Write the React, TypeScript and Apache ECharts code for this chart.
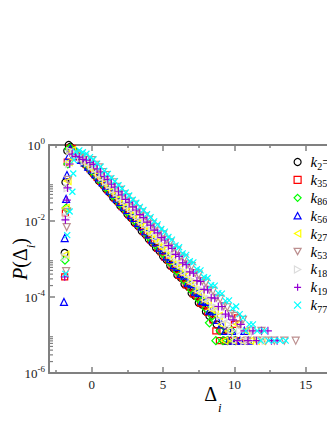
import React, { useEffect, useRef } from "react";
import * as echarts from "echarts";

// ---------- data (Δ_i, log10 P) ----------
const binStep = 0.25;

const k2Head = [[-1.9, -2.84], [-1.85, -0.98], [-1.72, -0.15], [-1.62, 0.0]];
const k2Start = -1.5;
const k2LogP = [-0.05, -0.15, -0.28, -0.37, -0.5, -0.6, -0.71, -0.81, -0.94, -1.03, -1.16, -1.25, -1.38, -1.47, -1.6, -1.69, -1.82, -1.91, -2.04, -2.13, -2.26, -2.35, -2.48, -2.57, -2.7, -2.79, -2.93, -3.02, -3.17, -3.25, -3.42, -3.49, -3.66, -3.72, -3.9, -3.97, -4.15, -4.2, -4.38, -4.5];
const k2Tail = [[8.5, -4.6], [8.75, -4.72], [9.0, -4.89], [9.25, -5.15], [9.5, -4.89], [9.75, -5.15], [10.0, -5.15]];

const k35Head = [[-1.9, -3.47], [-1.85, -1.79], [-1.72, -0.45], [-1.55, -0.08]];
const k35Start = -1.375;
const k35LogP = [-0.09, -0.2, -0.31, -0.41, -0.52, -0.63, -0.74, -0.85, -0.96, -1.06, -1.18, -1.28, -1.4, -1.5, -1.62, -1.71, -1.84, -1.93, -2.06, -2.15, -2.28, -2.37, -2.5, -2.59, -2.72, -2.81, -2.95, -3.04, -3.19, -3.27, -3.43, -3.5, -3.68, -3.74, -3.92, -3.97, -4.16, -4.2, -4.4];
const k35Tail = [[8.5, -4.6], [8.7, -4.89], [8.95, -5.15], [9.2, -4.89], [9.4, -5.15], [9.7, -5.15], [10.0, -4.72], [10.2, -4.55], [10.5, -5.15], [10.8, -5.15]];

const k86Head = [[-1.88, -3.03], [-1.8, -1.66], [-1.68, -0.5], [-1.6, -0.1]];
const k86Start = -1.5;
const k86LogP = [-0.08, -0.17, -0.26, -0.36, -0.48, -0.57, -0.69, -0.78, -0.9, -1.0, -1.12, -1.21, -1.34, -1.43, -1.56, -1.65, -1.77, -1.86, -1.99, -2.08, -2.2, -2.3, -2.42, -2.51, -2.64, -2.72, -2.86, -2.95, -3.09, -3.18, -3.33, -3.41, -3.57, -3.64, -3.82, -3.87, -4.06, -4.1, -4.3];
const k86Tail = [[8.25, -4.68], [8.45, -4.5], [8.7, -5.15], [9.0, -4.89], [9.2, -5.15], [9.5, -5.15], [9.8, -4.89], [10.1, -5.15]];

const k56Head = [[-1.95, -4.13], [-1.9, -2.45], [-1.8, -1.42], [-1.74, -0.79], [-1.62, -0.3]];
const k56Start = -1.5;
const k56LogP = [-0.1, -0.2, -0.27, -0.39, -0.46, -0.57, -0.64, -0.77, -0.85, -0.98, -1.07, -1.2, -1.28, -1.41, -1.5, -1.62, -1.71, -1.84, -1.92, -2.05, -2.14, -2.27, -2.35, -2.49, -2.56, -2.7, -2.77, -2.93, -3.0, -3.16, -3.21, -3.39, -3.44, -3.62, -3.66, -3.86, -3.89, -4.1, -4.13, -4.36, -4.38];
const k56Tail = [[8.8, -4.6], [9.1, -4.72], [9.35, -4.89], [9.6, -5.15], [9.85, -4.89], [10.1, -5.15], [10.4, -5.15], [10.7, -4.89], [11.0, -5.15]];

const k27Head = [[-1.85, -2.89], [-1.82, -1.66], [-1.7, -0.95], [-1.62, -0.45], [-1.52, -0.22]];
const k27Start = -1.375;
const k27LogP = [-0.14, -0.25, -0.31, -0.41, -0.48, -0.58, -0.66, -0.78, -0.87, -0.99, -1.08, -1.2, -1.29, -1.41, -1.5, -1.62, -1.71, -1.83, -1.92, -2.04, -2.13, -2.25, -2.34, -2.46, -2.55, -2.68, -2.75, -2.91, -2.98, -3.14, -3.21, -3.38, -3.43, -3.62, -3.66, -3.85, -3.89, -4.08, -4.12, -4.32, -4.36];
const k27Tail = [[8.9, -4.5], [9.1, -4.72], [9.3, -5.15], [9.6, -4.89], [9.9, -5.15], [10.2, -4.72], [10.5, -5.15], [10.8, -4.89], [11.1, -5.15], [11.5, -5.15], [11.9, -5.15]];

const k53Head = [[-1.8, -3.32], [-1.76, -2.16], [-1.72, -1.76], [-1.66, -0.92]];
const k53Start = -1.5;
const k53LogP = [-0.19, -0.25, -0.26, -0.32, -0.33, -0.39, -0.4, -0.52, -0.59, -0.71, -0.79, -0.91, -0.98, -1.1, -1.18, -1.3, -1.38, -1.49, -1.57, -1.69, -1.77, -1.88, -1.96, -2.08, -2.16, -2.27, -2.35, -2.49, -2.56, -2.7, -2.77, -2.93, -2.98, -3.14, -3.19, -3.37, -3.41, -3.58, -3.62, -3.81, -3.84, -4.02, -4.05, -4.24, -4.27, -4.45, -4.5];
const k53Tail = [[10.3, -4.72], [10.6, -4.6], [10.9, -5.15], [11.2, -4.89], [11.6, -5.15], [11.9, -4.89], [12.2, -5.15], [12.8, -5.15], [13.5, -5.15], [14.3, -5.15]];

const k18Head = [[-1.85, -2.95], [-1.78, -1.9], [-1.7, -1.13], [-1.6, -0.5]];
const k18Start = -1.5;
const k18LogP = [-0.16, -0.21, -0.29, -0.34, -0.43, -0.47, -0.56, -0.64, -0.77, -0.85, -0.97, -1.06, -1.18, -1.26, -1.38, -1.47, -1.59, -1.67, -1.8, -1.88, -2.0, -2.09, -2.21, -2.29, -2.41, -2.5, -2.62, -2.71, -2.86, -2.93, -3.1, -3.15, -3.33, -3.38, -3.56, -3.6, -3.8, -3.82, -4.04, -4.05, -4.27, -4.28, -4.5];
const k18Tail = [[9.3, -4.6], [9.55, -4.72], [9.8, -4.89], [10.1, -5.15], [10.4, -4.89], [10.7, -5.15], [11.0, -5.15], [11.4, -4.89], [11.8, -5.15], [12.2, -5.15]];

const k19Head = [[-1.9, -3.47], [-1.85, -1.97], [-1.75, -1.45], [-1.7, -1.13], [-1.55, -0.5]];
const k19Start = -1.375;
const k19LogP = [-0.24, -0.3, -0.32, -0.38, -0.4, -0.46, -0.51, -0.63, -0.71, -0.83, -0.91, -1.03, -1.11, -1.23, -1.31, -1.43, -1.51, -1.63, -1.71, -1.83, -1.91, -2.03, -2.11, -2.24, -2.31, -2.44, -2.5, -2.65, -2.72, -2.88, -2.93, -3.1, -3.15, -3.34, -3.37, -3.57, -3.59, -3.8, -3.81, -4.02, -4.03, -4.25, -4.25, -4.45];
const k19Tail = [[9.6, -4.5], [9.9, -4.6], [10.2, -5.15], [10.45, -4.72], [10.7, -4.89], [10.95, -5.15], [11.3, -4.89], [11.55, -5.15], [11.9, -4.89], [12.35, -4.89], [12.6, -5.15], [13.0, -5.15]];

const k77Head = [[-1.85, -3.39], [-1.72, -2.37], [-1.55, -1.75], [-1.36, -1.23], [-1.3, -0.75], [-1.25, -0.4]];
const k77Start = -1.125;
const k77LogP = [-0.18, -0.14, -0.19, -0.23, -0.32, -0.38, -0.49, -0.57, -0.68, -0.76, -0.87, -0.95, -1.06, -1.14, -1.25, -1.33, -1.44, -1.52, -1.63, -1.71, -1.82, -1.9, -2.01, -2.09, -2.21, -2.28, -2.42, -2.49, -2.64, -2.69, -2.85, -2.89, -3.06, -3.09, -3.27, -3.3, -3.48, -3.5, -3.69, -3.7, -3.9, -3.91, -4.1, -4.09, -4.3, -4.25, -4.45];
const k77Tail = [[10.6, -4.55], [10.8, -4.89], [11.05, -4.72], [11.3, -4.72], [11.6, -4.89], [11.85, -5.15], [12.1, -4.89], [12.4, -5.15], [12.8, -5.15], [13.2, -5.15], [13.6, -5.15]];

const seriesNames = ["k2", "k35", "k86", "k56", "k27", "k53", "k18", "k19", "k77"];
const legendSubs = ["2", "35", "86", "56", "27", "53", "18", "19", "77"];

const xMajorTicks = [0, 5, 10, 15, 20];
const xTickLabels = [0, 5, 10, 15];
const xMinorTicks = [-2.5, 2.5, 7.5, 12.5, 17.5];
const yMinorMantissas = [2, 3, 4, 5, 6, 7, 8, 9];
const yMinorDecades = [-2, -4, -6];

// ---------- helpers / styles ----------
function build(head: number[][], start: number, logP: number[], tail: number[][]) {
  return [...head, ...logP.map((v, i) => [start + i * binStep, v]), ...tail];
}

const seriesData = [
  build(k2Head, k2Start, k2LogP, k2Tail),
  build(k35Head, k35Start, k35LogP, k35Tail),
  build(k86Head, k86Start, k86LogP, k86Tail),
  build(k56Head, k56Start, k56LogP, k56Tail),
  build(k27Head, k27Start, k27LogP, k27Tail),
  build(k53Head, k53Start, k53LogP, k53Tail),
  build(k18Head, k18Start, k18LogP, k18Tail),
  build(k19Head, k19Start, k19LogP, k19Tail),
  build(k77Head, k77Start, k77LogP, k77Tail),
];

const markerStyles = [
  { color: "#000000", symbol: "circle", size: 7 },
  { color: "#ff0000", symbol: "rect", size: 6 },
  { color: "#00ff00", symbol: "diamond", size: 8 },
  { color: "#0000ff", symbol: "path://M5,0L10,9L0,9Z", size: 7 },
  { color: "#ffff00", symbol: "path://M0,5L9,0L9,10Z", size: 7 },
  { color: "#bc8f8f", symbol: "path://M0,0L10,0L5,9Z", size: 7 },
  { color: "#dcdcdc", symbol: "path://M0,0L9,5L0,10Z", size: 7 },
  { color: "#9400d3", symbol: "path://M4,0L4,8M0,4L8,4", size: 8 },
  { color: "#00ffff", symbol: "path://M0,0L8,8M8,0L0,8", size: 6 },
];

const FONT = "'Liberation Serif', 'Times New Roman', serif";
const AXIS = "#808080";

export default function App() {
  const ref = useRef<HTMLDivElement>(null);

  useEffect(() => {
    document.body.style.margin = "0";
    if (!ref.current) return;
    const chart = echarts.init(ref.current, undefined, { renderer: "svg" });

    const yMinorData = yMinorDecades.flatMap((d) => yMinorMantissas.map((m) => [-3, d + Math.log10(m)]));

    const scatterSeries = seriesData.map((data, i) => ({
      name: seriesNames[i],
      type: "scatter",
      xAxisIndex: 0,
      yAxisIndex: 0,
      data,
      symbol: markerStyles[i].symbol,
      symbolSize: markerStyles[i].size,
      itemStyle: {
        color: "rgba(0,0,0,0)",
        borderColor: markerStyles[i].color,
        borderWidth: 1.2,
        opacity: 1,
      },
      emphasis: { disabled: true },
    }));

    const xBase = {
      type: "value",
      min: -3,
      max: 20,
      splitLine: { show: false },
    };

    chart.setOption({
      animation: false,
      backgroundColor: "#ffffff",
      grid: { left: 49, top: 145, width: 328, height: 228, containLabel: false, outerBoundsMode: "none" },
      legend: {
        data: seriesNames.map((name, i) => ({
          name,
          icon: markerStyles[i].symbol,
          itemStyle: { color: "rgba(0,0,0,0)", borderColor: markerStyles[i].color, borderWidth: 1.2 },
        })),
        orient: "vertical",
        left: 288.5,
        top: 149.5,
        itemWidth: 7,
        itemHeight: 7,
        itemGap: 1.4,
        selectedMode: false,
        formatter: (name: string) => {
          const i = seriesNames.indexOf(name);
          return `{k|k}{s|${legendSubs[i]}}` + (i === 0 ? "{e|=}" : "");
        },
        textStyle: {
          fontFamily: FONT,
          color: "#000",
          padding: [0, 0, 0, 4.5],
          rich: {
            k: { fontFamily: FONT, fontSize: 15, fontStyle: "italic", lineHeight: 18, color: "#000" },
            s: { fontFamily: FONT, fontSize: 10, lineHeight: 10, verticalAlign: "bottom", color: "#000" },
            e: { fontFamily: FONT, fontSize: 15, lineHeight: 18, color: "#000" },
          },
        },
      },
      xAxis: [
        {
          ...xBase,
          position: "bottom",
          axisLine: { show: true, onZero: false, lineStyle: { color: AXIS, width: 2 } },
          axisTick: { show: true, inside: true, length: 6, customValues: xMajorTicks, lineStyle: { color: AXIS, width: 1.5 } },
          axisLabel: {
            show: true,
            customValues: xTickLabels,
            formatter: (v: number) => String(v),
            fontFamily: FONT,
            fontSize: 13,
            color: "#222",
            margin: 5,
          },
          name: "{d|Δ}{i|i}",
          nameLocation: "middle",
          nameGap: 11,
          nameMoveOverlap: false,
          nameTextStyle: {
            rich: {
              d: { fontFamily: FONT, fontSize: 20, lineHeight: 22, verticalAlign: "top", color: "#000" },
              i: { fontFamily: FONT, fontSize: 13, fontStyle: "italic", lineHeight: 13, padding: [17, 0, 0, 1], verticalAlign: "top", color: "#000" },
            },
          },
        },
        {
          ...xBase,
          position: "bottom",
          axisLine: { show: false, onZero: false },
          axisTick: { show: true, inside: true, length: 3, customValues: xMinorTicks, lineStyle: { color: AXIS, width: 1.5 } },
          axisLabel: { show: false },
        },
        {
          ...xBase,
          position: "top",
          axisLine: { show: true, onZero: false, lineStyle: { color: AXIS, width: 2 } },
          axisTick: { show: true, inside: true, length: 6, customValues: xMajorTicks, lineStyle: { color: AXIS, width: 1.5 } },
          axisLabel: { show: false },
        },
        {
          ...xBase,
          position: "top",
          axisLine: { show: false, onZero: false },
          axisTick: { show: true, inside: true, length: 3, customValues: xMinorTicks, lineStyle: { color: AXIS, width: 1.5 } },
          axisLabel: { show: false },
        },
      ],
      yAxis: [
        {
          type: "value",
          min: -6,
          max: 0,
          interval: 2,
          position: "left",
          splitLine: { show: false },
          axisLine: { show: true, onZero: false, lineStyle: { color: AXIS, width: 2 } },
          axisTick: { show: true, inside: true, length: 6, lineStyle: { color: AXIS, width: 1.5 } },
          axisLabel: {
            formatter: (v: number) => `{b|10}{s|${v}}`,
            margin: 4,
            rich: {
              b: { fontFamily: FONT, fontSize: 13, lineHeight: 18, color: "#222" },
              s: { fontFamily: FONT, fontSize: 9, lineHeight: 9, verticalAlign: "top", color: "#222" },
            },
          },
          name: "{p|P}{n|(Δ}{s|i}{n|)}",
          nameLocation: "middle",
          nameRotate: 90,
          nameGap: 17,
          nameMoveOverlap: false,
          nameTextStyle: {
            rich: {
              p: { fontFamily: FONT, fontSize: 20, fontStyle: "italic", lineHeight: 22, verticalAlign: "top", color: "#000" },
              n: { fontFamily: FONT, fontSize: 20, lineHeight: 22, verticalAlign: "top", color: "#000" },
              s: { fontFamily: FONT, fontSize: 13, fontStyle: "italic", lineHeight: 13, padding: [14, 0, 0, 0], verticalAlign: "top", color: "#000" },
            },
          },
        },
        {
          type: "value",
          min: -6,
          max: 0,
          interval: 2,
          position: "right",
          splitLine: { show: false },
          axisLine: { show: true, onZero: false, lineStyle: { color: AXIS, width: 2 } },
          axisTick: { show: true, inside: true, length: 6, lineStyle: { color: AXIS, width: 1.5 } },
          axisLabel: { show: false },
        },
      ],
      series: [
        ...scatterSeries,
        {
          type: "custom",
          xAxisIndex: 0,
          yAxisIndex: 0,
          silent: true,
          clip: false,
          data: yMinorData,
          renderItem: (_params: any, api: any) => {
            const p = api.coord([api.value(0), api.value(1)]);
            return {
              type: "line",
              shape: { x1: p[0], y1: p[1], x2: p[0] + 4, y2: p[1] },
              style: { stroke: AXIS, lineWidth: 1.2 },
            };
          },
        },
      ],
    });

    return () => chart.dispose();
  }, []);

  return (
    <div style={{ width: 327, height: 423, overflow: "hidden", position: "relative", background: "#fff" }}>
      <div ref={ref} style={{ width: 420, height: 423 }} />
    </div>
  );
}
